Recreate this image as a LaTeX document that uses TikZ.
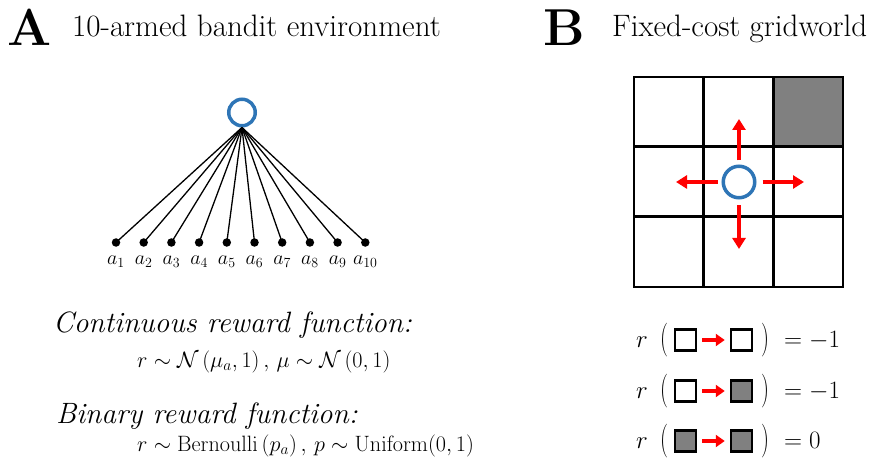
\RequirePackage{fix-cm}
\documentclass[tikz,border=0pt]{standalone}
\usepackage{amsmath}
\usepackage{graphicx}
\usetikzlibrary{arrows.meta}
\definecolor{agentblue}{RGB}{46,117,182}
\definecolor{cellgray}{RGB}{128,128,128}
\definecolor{arrowred}{RGB}{255,0,0}
\begin{document}
\begin{tikzpicture}[x=1pt,y=-1pt,
  title/.style={anchor=base west, inner sep=0pt, font=\fontsize{31}{34}\selectfont},
  panel/.style={anchor=base west, inner sep=0pt, font=\fontsize{52}{56}\selectfont\bfseries},
  heading/.style={anchor=base west, inner sep=0pt, font=\fontsize{29.4}{32}\selectfont\itshape},
  formula/.style={anchor=base west, inner sep=0pt, font=\fontsize{22.2}{25}\selectfont},
  agent/.style={circle, draw=agentblue, line width=3.5pt, inner sep=0pt},
  leaf/.style={circle, fill=black, minimum size=8.5pt, inner sep=0pt},
  branch/.style={line width=1.3pt},
  lab/.style={anchor=north, inner sep=0pt, font=\fontsize{20}{22}\selectfont},
  gridline/.style={line width=2.5pt},
  redarrow/.style={draw=arrowred, line width=3.5pt, -{Triangle[length=11pt,width=13pt]}},
  smallred/.style={draw=arrowred, line width=3.5pt, -{Triangle[length=9pt,width=12pt]}},
  cellbox/.style={draw=black, line width=2.5pt, minimum size=21pt, inner sep=0pt},
  eqtxt/.style={anchor=base, inner sep=0pt, font=\fontsize{25}{28}\selectfont},
  paren/.style={anchor=center, inner sep=0pt, font=\fontsize{25}{28}\selectfont},
]
\useasboundingbox (0,0) rectangle (871,468);

% ---------- Panel A ----------
\node[panel] (pA) at (7,46) {A};
\node[title] (tA) at (72,37) {10-armed bandit environment};

\node[agent, minimum size=26.5pt] (root) at (242,112.5) {};
\foreach \i in {1,...,10} {
  \node[leaf] (a\i) at ({116+27.7*(\i-1)},242.5) {};
  \node[lab] (l\i) at ([yshift=-9pt]a\i.south) {$a_{\i}$};
  \draw[branch] (root.south) -- (a\i.center);
}

\node[heading] (h1) at (53,332) {Continuous reward function:};
\node[formula] (f1) at (137,367) {$r\sim\mathcal{N}\left(\mu_a,1\right),\, \mu\sim\mathcal{N}\left(0,1\right)$};
\node[heading] (h2) at (56,423) {Binary reward function:};
\node[formula] (f2) at (137,451) {$r\sim\mathrm{Bernoulli}\left(p_a\right),\, p\sim\mathrm{Uniform}(0,1)$};

% ---------- Panel B ----------
\node[panel] (pB) at (543,46) {B};
\node[title] (tB) at (612,37) {Fixed-cost gridworld};

\fill[cellgray] (773.5,77) rectangle (843,146.5);
\draw[gridline] (634,77) rectangle (843,287);
\draw[gridline] (703.5,77) -- (703.5,287);
\draw[gridline] (773.5,77) -- (773.5,287);
\draw[gridline] (634,146.5) -- (843,146.5);
\draw[gridline] (634,216.5) -- (843,216.5);

\node[agent, minimum size=31.5pt] (ag) at (739,182) {};
\coordinate (tipU) at (739,119);
\coordinate (tipD) at (739,249);
\coordinate (tipL) at (676,182);
\coordinate (tipR) at (804,182);
\draw[redarrow, shorten <=4pt] (ag) -- (tipU);
\draw[redarrow, shorten <=6pt] (ag) -- (tipD);
\draw[redarrow, shorten <=4pt] (ag) -- (tipL);
\draw[redarrow, shorten <=6pt] (ag) -- (tipR);

% reward rows
\foreach \k/\yy/\fa/\fb/\val in {1/340/white/white/{-1}, 2/391/white/cellgray/{-1}, 3/441/cellgray/cellgray/0} {
  \node[eqtxt] (r\k) at (642,\yy+7) {$r$};
  \node[paren] (lp\k) at (664,\yy) {\scalebox{0.9}[1.35]{$($}};
  \node[cellbox, fill=\fa] (s\k) at (685.5,\yy) {};
  \node[cellbox, fill=\fb] (t\k) at (741.5,\yy) {};
  \draw[smallred, shorten <=5pt, shorten >=5pt] (s\k) -- (t\k);
  \node[paren] (rp\k) at (765,\yy) {\scalebox{0.9}[1.35]{$)$}};
  \node[eqtxt, anchor=base west] (v\k) at (784,\yy+7) {$=\val$};
}
\end{tikzpicture}
\end{document}
